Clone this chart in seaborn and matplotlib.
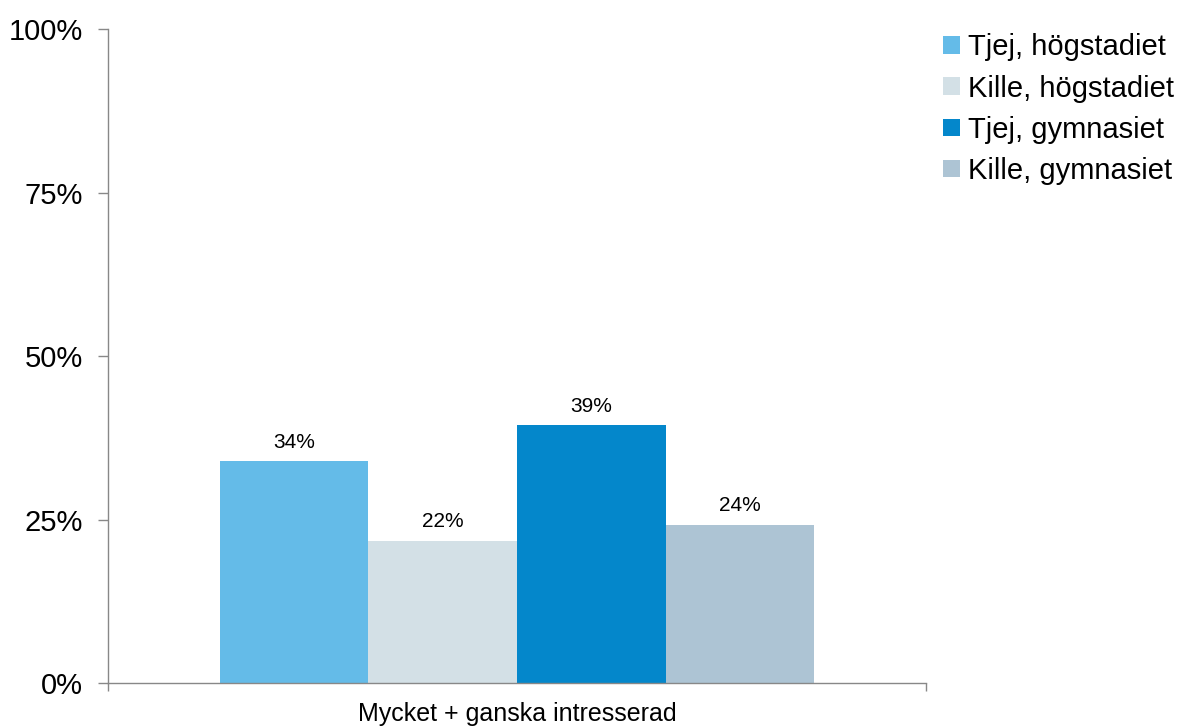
import matplotlib
matplotlib.use("Agg")
import matplotlib.pyplot as plt
import pandas as pd
import seaborn as sns
from matplotlib.ticker import PercentFormatter, FixedLocator

category = ["Mycket + ganska intresserad"]
groups = ["Tjej, högstadiet", "Kille, högstadiet", "Tjej, gymnasiet", "Kille, gymnasiet"]
values = [0.339, 0.217, 0.394, 0.242]
colors = ["#64BBE8", "#D3E0E6", "#0487CB", "#ADC4D4"]

df = pd.DataFrame({"kategori": category * len(groups), "grupp": groups, "andel": values})

sns.set_theme(style="white")
plt.rcParams["font.family"] = ["Liberation Sans", "DejaVu Sans"]
plt.rcParams["text.color"] = "black"
plt.rcParams["xtick.color"] = "black"
plt.rcParams["ytick.color"] = "black"

fig = plt.figure(figsize=(11.84, 7.26), dpi=100)
ax = fig.add_axes([0.0912, 0.0592, 0.6909, 0.9008])

sns.barplot(data=df, x="kategori", y="andel", hue="grupp", palette=colors,
            width=0.727, saturation=1, linewidth=0, edgecolor="none", ax=ax, legend=True)

for c in ax.containers:
    ax.bar_label(c, labels=[f"{v:.0%}" for v in c.datavalues], padding=7,
                 fontsize=15, color="black")

ax.set_ylim(0, 1)
ax.set_xlim(-0.5, 0.5)
ax.yaxis.set_major_locator(FixedLocator([0, 0.25, 0.5, 0.75, 1.0]))
ax.yaxis.set_major_formatter(PercentFormatter(1.0, decimals=0))
ax.set_xlabel(""); ax.set_ylabel("")
ax.tick_params(axis="y", labelsize=21, length=7, width=1, color="#888888",
               labelcolor="black", direction="out", left=True, pad=11)
ax.tick_params(axis="x", which="major", length=0, labelsize=18, labelcolor="black", pad=14)
ax.xaxis.set_minor_locator(FixedLocator([-0.5, 0.5]))
ax.tick_params(axis="x", which="minor", length=6, width=1, color="#888888",
               direction="out", bottom=True)
for s in ["top", "right"]:
    ax.spines[s].set_visible(False)
for s in ["left", "bottom"]:
    ax.spines[s].set_color("#888888")
    ax.spines[s].set_linewidth(1)

handles, labels = ax.get_legend_handles_labels()
ax.get_legend().remove()
fig.legend(handles, labels, loc="upper left", bbox_to_anchor=(0.787, 0.97),
           frameon=False, fontsize=21, handlelength=0.55, handleheight=0.55,
           handletextpad=0.3, labelspacing=0.45, borderaxespad=0, labelcolor="black")

fig.savefig("out.png", dpi=100)
